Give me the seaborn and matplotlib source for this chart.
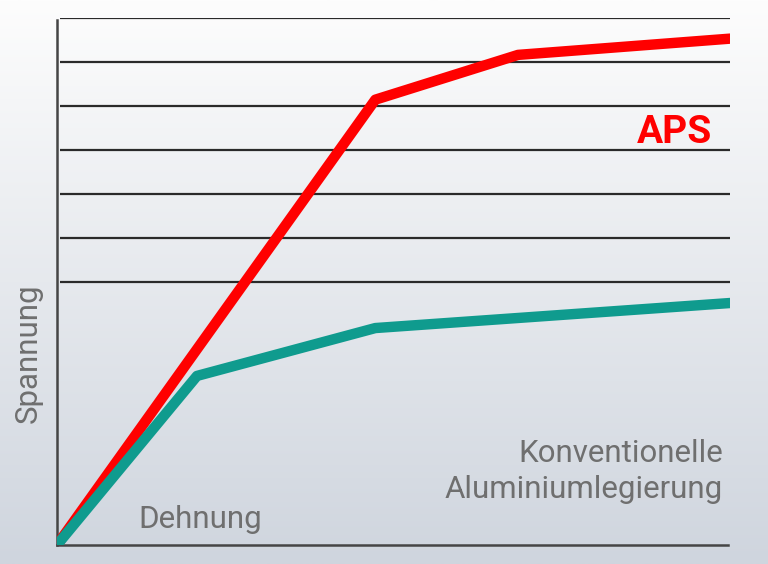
import numpy as np
import pandas as pd
import matplotlib
matplotlib.use("Agg")
import matplotlib.pyplot as plt
import seaborn as sns

# Data (arbitrary units)
aps_x = [0.0, 47.3, 68.5, 100.0]
aps_y = [0.0, 10.14, 11.16, 11.53]
alu_x = [0.0, 20.8, 47.3, 100.0]
alu_y = [0.0, 3.85, 4.94, 5.51]
series_names = ["APS", "Konventionelle Aluminiumlegierung"]
grid_levels = [6, 7, 8, 9, 10, 11, 12]

df = pd.DataFrame({
    "Dehnung": aps_x + alu_x,
    "Spannung": aps_y + alu_y,
    "Werkstoff": [series_names[0]] * len(aps_x) + [series_names[1]] * len(alu_x),
})

sns.set_style("white")
plt.rcParams["font.family"] = ["Roboto", "DejaVu Sans"]

W, H = 768, 564
fig = plt.figure(figsize=(W / 100, H / 100), dpi=100)

# background gradient
bg = fig.add_axes([0, 0, 1, 1], zorder=0)
top = np.array([253, 253, 253]) / 255
bot = np.array([207, 213, 222]) / 255
t = np.linspace(0, 1, 256)[:, None]
grad = top[None, :] * (1 - t) + bot[None, :] * t
bg.imshow(grad[:, None, :], aspect="auto", extent=[0, 1, 0, 1])
bg.axis("off")

L, R, T, B = 57, 730, 18, 545
ax = fig.add_axes([L / W, 1 - B / H, (R - L) / W, (B - T) / H], zorder=1)
ax.set_facecolor("none")

ax.hlines(grid_levels, 0.5, 100, color="#2a2a2a", lw=1.6, zorder=1)

sns.lineplot(data=df, x="Dehnung", y="Spannung", hue="Werkstoff",
             hue_order=series_names, palette=["#ff0000", "#0f9b8e"],
             lw=7.5, solid_capstyle="round", solid_joinstyle="round",
             legend=False, ax=ax, sort=False, zorder=3)

ax.set_xlim(0, 100)
ax.set_ylim(0, 12)
ax.set_xticks([])
ax.set_yticks([])
ax.set_xlabel("")
ax.set_ylabel("")
for s in ["top", "right"]:
    ax.spines[s].set_visible(False)
for s in ["left", "bottom"]:
    ax.spines[s].set_color("#454545")
    ax.spines[s].set_linewidth(1.8)
ax.spines["left"].set_bounds(0, 11.95)
ax.spines["bottom"].set_bounds(0, 99.7)

gray = "#6f6f6f"
def fx(x): return x / W
def fy(y): return 1 - y / H

fs = 22.5
fig.text(fx(28), fy(353), "Spannung", rotation=90, ha="center", va="center",
         fontsize=fs, color=gray, zorder=5)
fig.text(fx(200), fy(528), "Dehnung", ha="center", va="baseline",
         fontsize=fs, color=gray, zorder=5)
fig.text(fx(723), fy(462), "Konventionelle", ha="right", va="baseline",
         fontsize=fs, color=gray, zorder=5)
fig.text(fx(723), fy(498), "Aluminiumlegierung", ha="right", va="baseline",
         fontsize=fs, color=gray, zorder=5)
fig.text(fx(712), fy(143), "APS", ha="right", va="baseline",
         fontsize=28, fontweight="bold", color="#ff0000", zorder=5)

fig.savefig("out.png", dpi=100)
